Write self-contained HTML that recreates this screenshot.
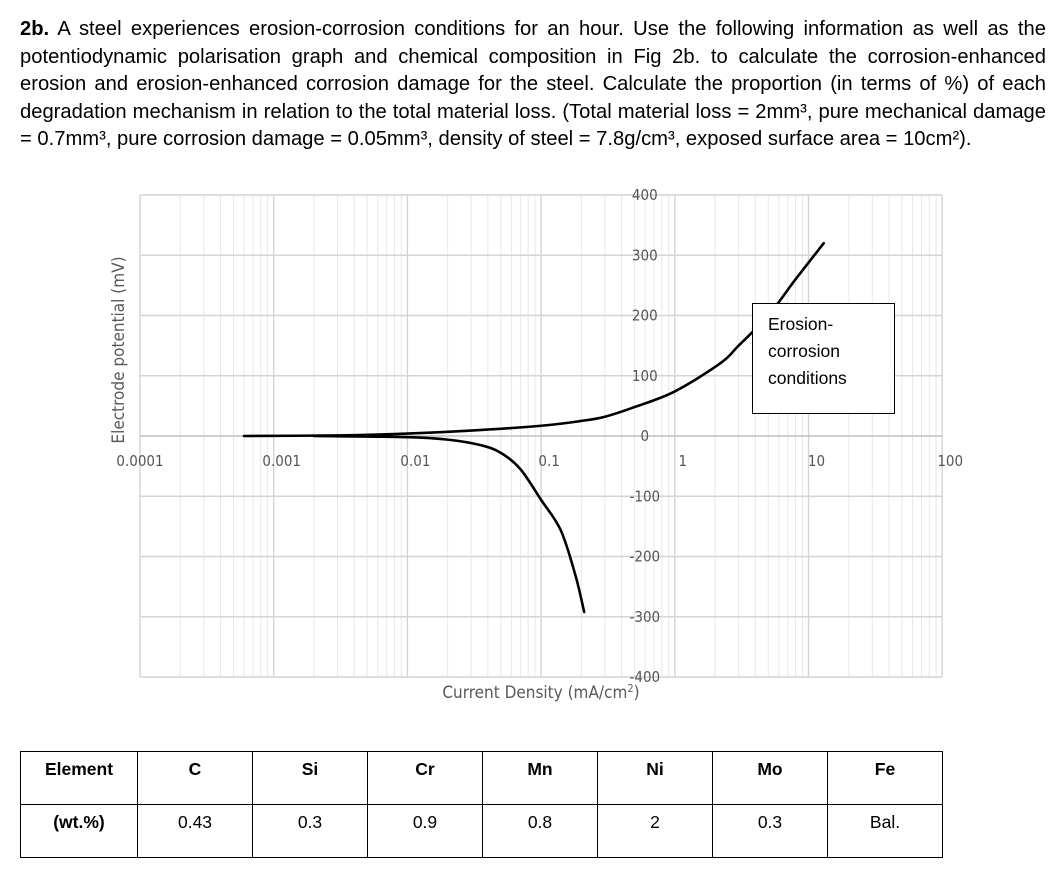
<!DOCTYPE html>
<html><head><meta charset="utf-8"><style>
body{margin:0;width:1061px;height:888px;background:#fff;overflow:hidden;font-family:"Liberation Sans",sans-serif;}
#q{position:absolute;left:20px;top:16px;width:1026px;font-size:20.2px;line-height:27.5px;color:#000;}
#q div{text-align:justify;text-align-last:justify;white-space:nowrap;}
#q div.last{text-align-last:left}
svg{position:absolute;left:0;top:0}
table{position:absolute;left:20px;top:751px;width:922px;border-collapse:collapse;table-layout:fixed;font-family:"Liberation Sans",sans-serif;}
td{border:1px solid #000;text-align:center;vertical-align:top;padding-top:7px;font-size:17.5px;height:44px;}
tr.h td{font-weight:bold}
</style></head><body>
<div id="q">
<div><b>2b.</b> A steel experiences erosion-corrosion conditions for an hour. Use the following information as well as the</div>
<div>potentiodynamic polarisation graph and chemical composition in Fig 2b. to calculate the corrosion-enhanced</div>
<div>erosion and erosion-enhanced corrosion damage for the steel. Calculate the proportion (in terms of %) of each</div>
<div>degradation mechanism in relation to the total material loss. (Total material loss = 2mm³, pure mechanical damage</div>
<div class="last">= 0.7mm³, pure corrosion damage = 0.05mm³, density of steel = 7.8g/cm³, exposed surface area = 10cm²).</div>
</div>
<svg id="chart" width="1061" height="888"></svg>
<table>
<colgroup><col style="width:117px"><col style="width:115px"><col style="width:115px"><col style="width:115px"><col style="width:115px"><col style="width:115px"><col style="width:115px"><col style="width:115px"></colgroup>
<tr class="h"><td>Element</td><td>C</td><td>Si</td><td>Cr</td><td>Mn</td><td>Ni</td><td>Mo</td><td>Fe</td></tr>
<tr><td><b>(wt.%)</b></td><td>0.43</td><td>0.3</td><td>0.9</td><td>0.8</td><td>2</td><td>0.3</td><td>Bal.</td></tr>
</table>
<script>
const xTicks=[0.0001,0.001,0.01,0.1,1,10,100];
const xTickLabels=["0.0001","0.001","0.01","0.1","1","10","100"];
const yTicks=[400,300,200,100,0,-100,-200,-300,-400];
const anodicX=[0.0006,0.003,0.01,0.03,0.1,0.2,0.3,0.5,1,2.2,3,5,8,13];
const anodicY=[0,1,4,9,17,25,32,48,74,121,150,200,260,320];
const cathodicX=[0.002,0.01,0.02,0.035,0.05,0.07,0.1,0.14,0.18,0.21];
const cathodicY=[0,-2,-6,-15,-28,-55,-106,-156,-230,-292];
const NS="http://www.w3.org/2000/svg";
const svg=document.getElementById('chart');
const X=v=>140+(Math.log10(v)+4)*133.7;
const Y=v=>436-v*0.6025;
function el(t,a,p){const e=document.createElementNS(NS,t);for(const k in a)e.setAttribute(k,a[k]);(p||svg).appendChild(e);return e;}
const F='DejaVu Sans Condensed, Liberation Sans, sans-serif';
for(let d=-4;d<2;d++)for(let m=2;m<10;m++){
 const l=el('line',{x1:X(m*Math.pow(10,d)),x2:X(m*Math.pow(10,d)),y1:Y(400),y2:Y(-400),stroke:'#e8e8e8','stroke-width':1});
 
 
}
xTicks.forEach((v,i)=>{
 const l=el('line',{x1:X(v),x2:X(v),y1:Y(400),y2:Y(-400),stroke:'#d4d4d4','stroke-width':1.4});
 
 
 const t=el('text',{x:X(v)+(i==0?0:8),y:466,'font-size':15,fill:'#555','text-anchor':'middle','font-family':F});
 t.textContent=xTickLabels[i];
 
 
});
yTicks.forEach(v=>{
 const l=el('line',{x1:X(0.0001),x2:X(100),y1:Y(v),y2:Y(v),stroke:v==0?'#bfbfbf':'#d4d4d4','stroke-width':1.4});
 
 
 const t=el('text',{x:X(1)-30,y:Y(v)+5,'font-size':15,fill:'#555','text-anchor':'middle','font-family':F});
 t.textContent=String(v);
 
 
});
const ya=el('text',{x:0,y:0,'font-size':17,fill:'#595959','text-anchor':'middle',transform:'translate(124,350) rotate(-90)','font-family':F});
ya.textContent='Electrode potential (mV)';


const xa=el('text',{x:541,y:698,'font-size':17,fill:'#595959','text-anchor':'middle','font-family':F});
xa.innerHTML='Current Density (mA/cm<tspan font-size="11" dy="-6">2</tspan><tspan dy="6">)</tspan>';


function curve(xs,ys,name){
 const P=xs.map((x,i)=>[X(x),Y(ys[i])]);
 let d='M'+P[0][0].toFixed(1)+','+P[0][1].toFixed(1);
 for(let i=0;i<P.length-1;i++){
  const p0=P[Math.max(i-1,0)],p1=P[i],p2=P[i+1],p3=P[Math.min(i+2,P.length-1)];
  const c1=[p1[0]+(p2[0]-p0[0])/6,p1[1]+(p2[1]-p0[1])/6],c2=[p2[0]-(p3[0]-p1[0])/6,p2[1]-(p3[1]-p1[1])/6];
  d+=' C'+c1.join(',')+' '+c2.join(',')+' '+p2.join(',');
 }
 const p=el('path',{d:d,fill:'none',stroke:'#000','stroke-width':2.6,'stroke-linejoin':'round','stroke-linecap':'round'});
 
 
}
curve(anodicX,anodicY,'anodic-curve');
curve(cathodicX,cathodicY,'cathodic-curve');
const g=el('g',{});


el('rect',{x:752.5,y:303.5,width:142,height:110,fill:'#fff',stroke:'#000','stroke-width':1},g);
['Erosion-','corrosion','conditions'].forEach((s,i)=>{const t=el('text',{x:768,y:330+i*27,'font-size':17.5,fill:'#000','font-family':'Liberation Sans, sans-serif'},g);t.textContent=s;});
</script>
</body></html>
